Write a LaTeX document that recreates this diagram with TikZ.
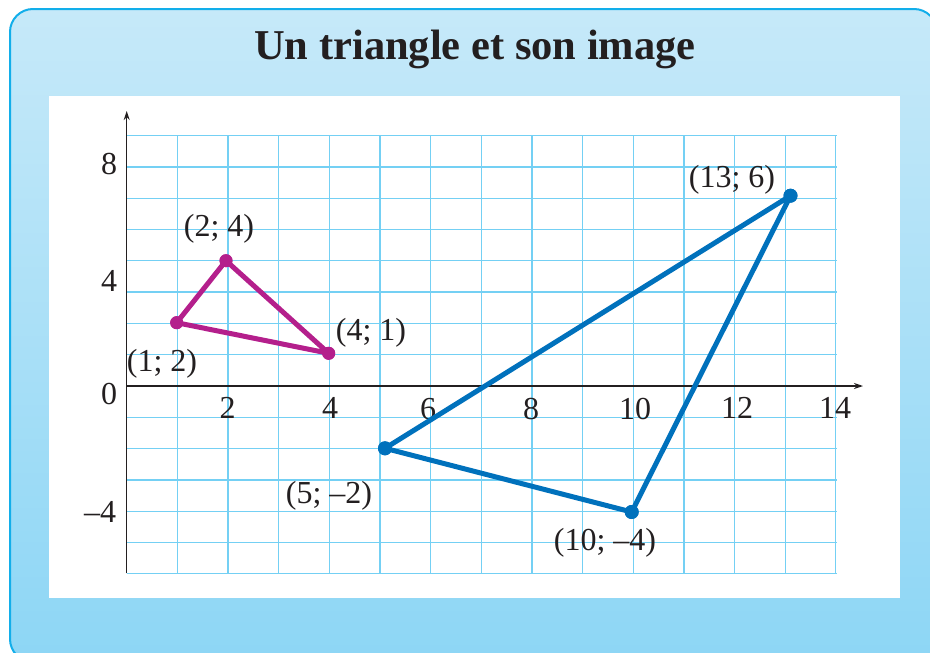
\documentclass[tikz,border=0pt]{standalone}
\usepackage{fontspec}
\setmainfont{Liberation Serif}
\usetikzlibrary{arrows.meta}
\definecolor{frameblue}{HTML}{12AEEA}
\definecolor{bgtop}{HTML}{C6E9F9}
\definecolor{bgbot}{HTML}{8DD6F5}
\definecolor{gridblue}{HTML}{74D0F4}
\definecolor{axisgray}{HTML}{231F20}
\definecolor{magentaT}{HTML}{B41F8C}
\definecolor{blueT}{HTML}{0071BC}
\tikzset{
  gridline/.style={draw=gridblue, line width=1.3pt},
  axisline/.style={draw=axisgray, line width=1.3pt, -{Stealth[length=9pt,width=6pt]}},
  lbl/.style={font=\fontsize{32}{38}\selectfont, text=axisgray, inner sep=0pt},
  mdot/.style={circle, fill=magentaT, inner sep=0pt, minimum size=13pt},
  bdot/.style={circle, fill=blueT, inner sep=0pt, minimum size=14pt},
  mline/.style={draw=magentaT, line width=5pt, line join=round},
  bline/.style={draw=blueT, line width=5pt, line join=round},
}
\begin{document}
\begin{tikzpicture}[x=1pt,y=-1pt]
\useasboundingbox (0,0) rectangle (930,653);
\clip (0,0) rectangle (930,653);
% frame
\shadedraw[top color=bgtop, bottom color=bgbot, draw=frameblue, line width=2pt, rounded corners=23pt] (10,9) rectangle (937,662);
\node[font=\fontsize{42.5}{50}\selectfont\bfseries, text=axisgray, anchor=base, inner sep=0pt] (title) at (475,59.5) {Un triangle et son image};
% panel
\fill[white] (49,95.7) rectangle (900,598.3);
% grid
\foreach \k in {0,...,14} \draw[gridline] ({126.7+50.65*\k},135) -- ({126.7+50.65*\k},573.3);
\foreach \j in {-6,...,8} \draw[gridline] (126.7,{386-31.3*\j}) -- (836.7,{386-31.3*\j});
% axes
\coordinate (O) at (126.7,386);
\coordinate (ybot) at (126.7,573.3);
\coordinate (ytop) at (126.7,111);
\coordinate (xend) at (863,386);
\draw[axisline] (ybot) -- (ytop);
\draw[axisline] (O) -- (xend);
% axis labels
\node[lbl] (y0) at (109,394) {0};
\node[lbl] (y8) at (109,164) {8};
\node[lbl] (y4) at (109,281) {4};
\node[lbl] (ym4) at (100,512) {–4};
\node[lbl] (x2) at (227.7,408) {2};
\node[lbl] (x4) at (330,408) {4};
\node[lbl] (x6) at (428,409) {6};
\node[lbl] (x8) at (531,409) {8};
\node[lbl] (x10) at (635,409) {10};
\node[lbl] (x12) at (737,408) {12};
\node[lbl] (x14) at (835,408) {14};
% magenta triangle
\node[mdot] (A) at (226,260.7) {};
\node[mdot] (B) at (176.7,322.7) {};
\node[mdot] (C) at (328.7,353.3) {};
\draw[mline] (A.center) -- (B.center) -- (C.center) -- cycle;
\node[mdot] at (A) {};
\node[mdot] at (B) {};
\node[mdot] at (C) {};
% blue triangle
\node[bdot] (D) at (790.5,195.7) {};
\node[bdot] (E) at (385,448.3) {};
\node[bdot] (F) at (631.7,512) {};
\draw[bline] (D.center) -- (E.center) -- (F.center) -- cycle;
\node[bdot] at (D) {};
\node[bdot] at (E) {};
\node[bdot] at (F) {};
% point labels
\node[lbl] (lA) at (219,229) {(2; 4)};
\node[lbl] (lB) at (162,364) {(1; 2)};
\node[lbl] (lC) at (371,333) {(4; 1)};
\node[lbl] (lD) at (732,180) {(13; 6)};
\node[lbl] (lE) at (329,496) {(5; –2)};
\node[lbl] (lF) at (605,543) {(10; –4)};
\end{tikzpicture}
\end{document}
